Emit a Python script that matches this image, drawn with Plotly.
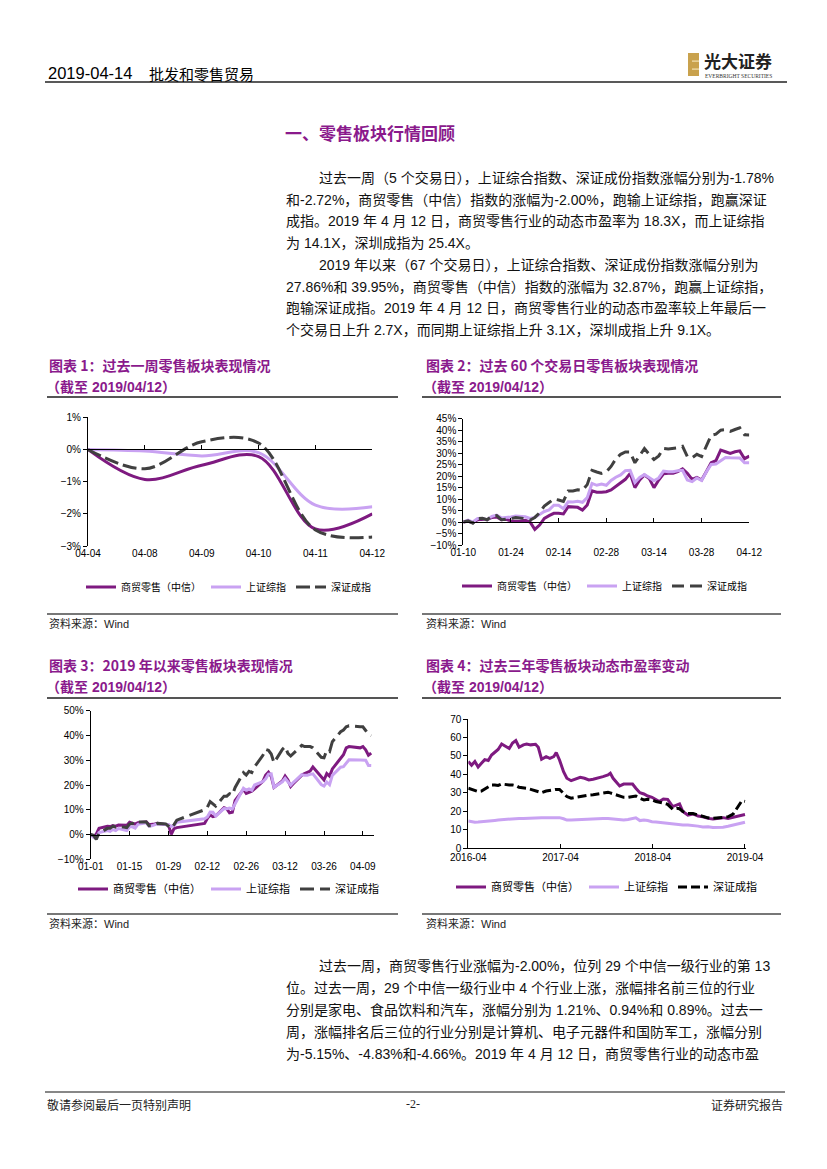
import pandas as pd
import plotly.graph_objects as go

W, H = 827, 1169
OFF = 8  # the page body margin shifts the figure by this many pixels
PURPLE = '#7E1A80'
LILAC = '#C9A2F2'
GREY = '#404040'
TITLE_PURPLE = '#8A1A8C'
CJK = 'Noto Sans CJK SC'
TXT = 'Liberation Sans, Arial, Noto Sans CJK SC'

NAMES = ['商贸零售（中信）', '上证综指', '深证成指']

# chart 1: past week (%)
week_days = ['04-04', '04-08', '04-09', '04-10', '04-11', '04-12']
week_retail = [0, -0.93, -0.49, -0.22, -2.47, -2.00]
week_sh = [0, -0.05, -0.20, -0.10, -1.73, -1.78]
week_sz = [0, -0.60, 0.24, 0.20, -2.50, -2.72]

# trading days of 2019 (base point on 01-01)
holidays = ['2019-02-04', '2019-02-05', '2019-02-06', '2019-02-07', '2019-02-08', '2019-04-05']
trade_days = pd.bdate_range('2019-01-02', '2019-04-12', freq='C', holidays=holidays)
ytd_dates = ['2019-01-01'] + [d.strftime('%Y-%m-%d') for d in trade_days]

# chart 2: past 60 trading days (%)
d60_dates = ytd_dates[7:]
d60_retail = [0, 0.3, -0.3, 1, 1.2, 1, 2, 2.2, 1, 1.2,
              0.5, 0.3, 0.5, 0.8, 0, -3.2, -1.3, 1.6, 2.8, 3.8,
              3.8, 3.5, 6.7, 6.4, 6.4, 5.2, 7.4, 13.6, 13, 13,
              13.2, 14, 15.4, 17, 18.6, 21.2, 15, 18.3, 20.5, 19,
              15, 18.3, 21, 21.2, 21.2, 22, 23.2, 21.2, 18.6, 19.4,
              18.3, 22, 25.8, 26.7, 31.3, 30.6, 29.9, 30.6, 31, 27.6,
              28.7]
d60_sh = [0, 0.8, 0, 1.5, 1.5, 1, 2.5, 3, 1.8, 1.9,
          2.2, 2.6, 2.4, 2.3, 1.6, 2, 3.3, 4.6, 5.3, 7.3,
          7.3, 5.8, 8.8, 8.7, 9, 8.6, 10.6, 16.8, 16, 16.5,
          16, 18.1, 19.5, 20.5, 22.4, 22.5, 17.2, 19.4, 20.7, 19.4,
          18, 19.2, 22.2, 21.9, 21.9, 22.3, 22.5, 18.3, 17.6, 19.2,
          18.1, 21.9, 25.1, 25.3, 26.9, 28.1, 28, 27.8, 27.9, 25.8,
          25.8]
d60_sz = [0, 0.5, -0.5, 1.5, 1.6, 1, 2.6, 2.8, 1, 1.2,
          1.5, 2, 1.8, 1.5, 0.8, 2, 4, 7, 8.5, 10,
          9.6, 9, 13.5, 13.5, 14, 13.8, 16.3, 22.5, 21.8, 21.2,
          21.8, 24.2, 27.5, 29.5, 30.5, 30.5, 25.8, 29, 32, 29.5,
          27.2, 28.8, 32, 31.8, 32, 32.3, 33, 28.5, 28, 29.5,
          28.5, 33.5, 37.8, 38.3, 40, 40.2, 39.5, 40.3, 41, 38,
          37.9]
d60_ticks = d60_dates[::10]

# chart 3: year to date (%)
ytd_retail = [0, -0.8, 0.2, 2.5, 3.3, 3.2, 3.6, 3.4, 3.8, 3.7,
              5, 4.6, 4.2, 4.8, 5.1, 4, 4, 4.3, 4.5, 4.2,
              3.8, 0.1, 2.4, 2.8, 4.5, 6.5, 7.9, 7.2, 7.5, 10.8,
              10.4, 8.8, 9, 13.8, 18.2, 16.6, 17, 17.5, 18.4, 21.5,
              24, 25.2, 23.5, 19, 21.6, 23.6, 22, 19.4, 20.6, 24,
              24.6, 25, 25.6, 27.3, 23, 22, 24.6, 23.6, 26.5, 30.5,
              32.2, 35, 35.5, 35, 35.5, 34.2, 32, 32.9]
ytd_sh = [0, -1.1, -1.2, 0.8, 1.6, 1.3, 2.0, 1.6, 2.4, 1.6,
          3.1, 3.1, 2.6, 4.1, 4.7, 3.4, 3.5, 3.9, 4.3, 4.1,
          4.0, 3.3, 3.6, 5.0, 6.4, 7.1, 9.1, 9.0, 7.5, 10.5,
          10.4, 10.7, 10.3, 12.4, 18.7, 17.9, 18.4, 17.9, 20.0, 21.4,
          22.5, 24.4, 24.5, 19.1, 21.3, 22.7, 21.3, 19.9, 21.1, 24.2,
          23.9, 23.9, 24.3, 24.5, 20.2, 19.6, 21.2, 20.1, 23.9, 27.2,
          27.4, 29.0, 30.2, 30.1, 29.9, 30.0, 27.9, 27.86]
ytd_sz = [0, -0.3, -2, 0.5, 2.5, 2.5, 3.4, 3, 3.3, 2.8,
          4.2, 4.5, 4, 5, 5.1, 3.5, 3.5, 4, 4.5, 4.3,
          3.4, 2.5, 4, 5.8, 10, 11, 13.3, 12.3, 11.5, 15.5,
          15.5, 16.5, 16, 19, 25, 24, 25.5, 25, 27.3, 32,
          34.4, 34, 32.5, 29, 34.4, 35.5, 32.8, 31.7, 32.8, 36,
          35.5, 35.5, 35.5, 35, 31.2, 31, 34, 33.5, 37.5, 41.5,
          42.2, 43.5, 43.9, 43.5, 43.5, 42, 40.5, 39.95]
ytd_ticks = ['2019-01-01', '2019-01-15', '2019-01-29', '2019-02-12',
             '2019-02-26', '2019-03-12', '2019-03-26', '2019-04-09']

# chart 4: dynamic PE over three years (X)
pe_dates = ['2016-04-12', '2016-04-25', '2016-05-08', '2016-05-21', '2016-06-03', '2016-06-16', '2016-06-30', '2016-07-13', '2016-07-26', '2016-08-08',
            '2016-08-22', '2016-09-04', '2016-09-21', '2016-10-04', '2016-10-17', '2016-10-30', '2016-11-16', '2016-11-29', '2016-12-15', '2017-01-03',
            '2017-01-14', '2017-01-27', '2017-02-14', '2017-03-01', '2017-03-16', '2017-03-26', '2017-04-08', '2017-04-24', '2017-05-07', '2017-05-24',
            '2017-06-11', '2017-06-29', '2017-07-16', '2017-08-02', '2017-08-19', '2017-09-07', '2017-09-27', '2017-10-17', '2017-10-26', '2017-11-06',
            '2017-11-19', '2017-12-02', '2017-12-18', '2018-01-04', '2018-01-22', '2018-02-04', '2018-02-20', '2018-03-08', '2018-03-23', '2018-04-09',
            '2018-04-25', '2018-05-08', '2018-05-24', '2018-06-10', '2018-06-30', '2018-07-16', '2018-07-27', '2018-08-09', '2018-08-29', '2018-09-18',
            '2018-10-08', '2018-10-27', '2018-11-17', '2018-12-06', '2018-12-26', '2019-01-15', '2019-02-04', '2019-02-24', '2019-03-14', '2019-03-31',
            '2019-04-12']
pe_retail = [47, 45, 47, 44, 46, 48, 47.5, 50.5, 52, 53.5,
             56.5, 55.4, 54, 57, 58.3, 54.7, 56, 56.5, 56, 56.3,
             54.7, 48.2, 49.6, 48.7, 49.6, 51.8, 47.8, 41.5, 37.9, 36.6,
             37.4, 38.4, 37.9, 37, 37.4, 37.9, 38.8, 39.7, 40.6, 37.9,
             36.1, 33.8, 34.8, 34.7, 34.8, 32.5, 30.1, 29.4, 28.3, 27.6,
             26.5, 25.3, 26.7, 26.5, 22.6, 23.5, 24, 19.9, 18, 18.6,
             17.5, 17.1, 16.2, 15.9, 16.2, 16.6, 16.2, 16.8, 17.1, 18,
             18.3]
pe_sh = [14.8, 14.4, 14.1, 14.2, 14.3, 14.5, 14.7, 14.9, 15.1, 15.3,
         15.5, 15.7, 15.9, 16.1, 16.1, 16.2, 16.2, 16.2, 16.1, 16.1,
         16.3, 16.5, 16.6, 16.7, 16.8, 16.8, 16.6, 16, 15.3, 15.3,
         15.4, 15.6, 15.9, 16, 16.2, 16.2, 16.2, 16.1, 16, 15.9,
         15.7, 15.5, 15.3, 15.6, 16.3, 16.5, 15, 15.3, 15, 14.4,
         14.3, 14.1, 13.9, 13.6, 13, 12.8, 12.7, 12.6, 12.6, 12.5,
         12, 11.5, 11.7, 11.3, 11.2, 11.4, 11.9, 12.6, 13.3, 13.9,
         14.1]
pe_sz = [32.5, 32, 31.2, 30.7, 31, 32, 33, 34.3, 34.3, 34,
         34.8, 34.5, 34.3, 34.3, 34, 33, 32.8, 32.5, 31.9, 31,
         30.3, 30.1, 31, 31.4, 31.8, 31.9, 31.9, 29.8, 28, 27.1,
         27.5, 28.3, 28.5, 28.8, 29, 29.4, 29.8, 30.3, 30, 29.5,
         28.8, 28.3, 27.6, 27.6, 27.8, 28.3, 27, 26.2, 26.5, 26.2,
         25.3, 25, 24.5, 23.8, 21.1, 21.7, 21.4, 19.9, 18.8, 18.8,
         18, 17, 16.5, 16.2, 16.5, 16.8, 17, 18.5, 22.6, 25.8,
         25.4]
pe_ticks = ['2016-04-12', '2017-04-12', '2018-04-12', '2019-04-12']
pe_ticktext = ['2016-04', '2017-04', '2018-04', '2019-04']

# page text
header_date = '2019-04-14'
header_topic = '批发和零售贸易'
section_title = '一、零售板块行情回顾'
para1 = ['过去一周（5 个交易日），上证综合指数、深证成份指数涨幅分别为-1.78%',
         '和-2.72%，商贸零售（中信）指数的涨幅为-2.00%，跑输上证综指，跑赢深证',
         '成指。2019 年 4 月 12 日，商贸零售行业的动态市盈率为 18.3X，而上证综指',
         '为 14.1X，深圳成指为 25.4X。']
para2 = ['2019 年以来（67 个交易日），上证综合指数、深证成份指数涨幅分别为',
         '27.86%和 39.95%，商贸零售（中信）指数的涨幅为 32.87%，跑赢上证综指，',
         '跑输深证成指。2019 年 4 月 12 日，商贸零售行业的动态市盈率较上年最后一',
         '个交易日上升 2.7X，而同期上证综指上升 3.1X，深圳成指上升 9.1X。']
para3 = ['过去一周，商贸零售行业涨幅为-2.00%，位列 29 个中信一级行业的第 13',
         '位。过去一周，29 个中信一级行业中 4 个行业上涨，涨幅排名前三位的行业',
         '分别是家电、食品饮料和汽车，涨幅分别为 1.21%、0.94%和 0.89%。过去一',
         '周，涨幅排名后三位的行业分别是计算机、电子元器件和国防军工，涨幅分别',
         '为-5.15%、-4.83%和-4.66%。2019 年 4 月 12 日，商贸零售行业的动态市盈']
chart_titles = ['图表 1：过去一周零售板块表现情况',
                '图表 2：过去 60 个交易日零售板块表现情况',
                '图表 3：2019 年以来零售板块表现情况',
                '图表 4：过去三年零售板块动态市盈率变动']
chart_sub = '（截至 2019/04/12）'
source = '资料来源：Wind'


def fx(px):
    return (px - OFF) / W


def fy(py):
    return 1 - (py - OFF) / H


fig = go.Figure()


def add_series(xs, series, xa, ya, legend, dash, dark, smooth=False):
    for name, ys, color, d in zip(NAMES, series, [PURPLE, LILAC, dark], ['solid', 'solid', dash]):
        line = dict(color=color, width=3, dash=d)
        if smooth:
            line.update(shape='spline', smoothing=1.0)
        fig.add_trace(go.Scatter(x=xs, y=ys, name=name, mode='lines', xaxis=xa, yaxis=ya,
                                 legend=legend, line=line, hoverinfo='skip'))


add_series(week_days, [week_retail, week_sh, week_sz], 'x', 'y', 'legend', '14px,5px', GREY, smooth=True)
add_series(d60_dates, [d60_retail, d60_sh, d60_sz], 'x2', 'y2', 'legend2', '12px,6px', GREY)
add_series(ytd_dates, [ytd_retail, ytd_sh, ytd_sz], 'x3', 'y3', 'legend3', '14px,6px', GREY)
add_series(pe_dates, [pe_retail, pe_sh, pe_sz], 'x4', 'y4', 'legend4', '9px,4px', '#000000')

# empty traces so the zero-line axes get drawn
for xa, ya in [('x5', 'y'), ('x6', 'y2'), ('x7', 'y3')]:
    fig.add_trace(go.Scatter(x=[], y=[], xaxis=xa, yaxis=ya, showlegend=False, hoverinfo='skip'))

tick_font = dict(family='Liberation Sans, Arial', size=10, color='#000')


def yax(dom, rng, dtick, suffix, anchor):
    return dict(domain=[fy(dom[1]), fy(dom[0])], range=rng, dtick=dtick, ticksuffix=suffix, anchor=anchor,
                showline=True, linecolor='#000', linewidth=1, ticks='outside', ticklen=4, tickcolor='#000',
                showgrid=False, zeroline=False, tickfont=tick_font, automargin=False)


def xlab(dom, rng, anchor, type_, **kw):
    return dict(domain=[fx(dom[0]), fx(dom[1])], range=rng, anchor=anchor, type=type_, showline=False,
                ticks='', showgrid=False, zeroline=False, tickfont=tick_font, automargin=False, **kw)


def xzero(over, ydom, yrng, rng, type_, tickvals):
    pos = fy(ydom[1]) + (0 - yrng[0]) / (yrng[1] - yrng[0]) * (fy(ydom[0]) - fy(ydom[1]))
    return dict(overlaying=over, anchor='free', position=pos, range=rng, type=type_, tickvals=tickvals,
                showline=True, linecolor='#000', linewidth=1, ticks='inside', ticklen=4, tickcolor='#000',
                showticklabels=False, showgrid=False, zeroline=False, automargin=False)


c1_x, c1_y = (88, 372.3), (417.3, 546)
c2_x, c2_y = (463.3, 749.3), (418.7, 545)
c3_x, c3_y = (90.7, 374), (710.7, 859.3)
c4_x, c4_y = (468.3, 746), (719, 848.3)

fig.update_layout(
    template='none',
    width=W, height=H, margin=dict(l=0, r=0, t=0, b=0, pad=0, autoexpand=False),
    paper_bgcolor='white', plot_bgcolor='white', hovermode=False,
    xaxis=xlab(c1_x, [0, 5], 'y', 'category'),
    yaxis=yax(c1_y, [-3, 1], 1, '%', 'x'),
    xaxis2=xlab(c2_x, [0, 60], 'y2', 'category', tickvals=d60_ticks, ticktext=[d[5:] for d in d60_ticks]),
    yaxis2=yax(c2_y, [-10, 45], 5, '%', 'x2'),
    xaxis3=xlab(c3_x, ['2019-01-01', '2019-04-13'], 'y3', 'date', tickvals=ytd_ticks, tickformat='%m-%d'),
    yaxis3=yax(c3_y, [-10, 50], 10, '%', 'x3'),
    xaxis4=dict(domain=[fx(c4_x[0]), fx(c4_x[1])], range=['2016-04-12', '2019-04-16'], anchor='y4', type='date',
                tickvals=pe_ticks, ticktext=pe_ticktext, showline=True, linecolor='#000', linewidth=1,
                ticks='inside', ticklen=4, tickcolor='#000', showgrid=False, zeroline=False, tickfont=tick_font,
                automargin=False),
    yaxis4=yax(c4_y, [0, 70], 10, '', 'x4'),
    xaxis5=xzero('x', c1_y, [-3, 1], [0, 5], 'linear', list(range(6))),
    xaxis6=xzero('x2', c2_y, [-10, 45], [0, 60], 'linear', list(range(0, 61, 10))),
    xaxis7=xzero('x3', c3_y, [-10, 50], ['2019-01-01', '2019-04-13'], 'date', ytd_ticks),
)

leg_common = dict(orientation='h', xanchor='left', yanchor='middle', bgcolor='rgba(0,0,0,0)',
                  tracegroupgap=0, borderwidth=0)
small_leg = dict(family=CJK, size=10, color='#000')
big_leg = dict(family=CJK, size=11, color='#000')
fig.update_layout(
    legend=dict(x=fx(81), y=fy(587), font=small_leg, **leg_common),
    legend2=dict(x=fx(457), y=fy(586), font=small_leg, **leg_common),
    legend3=dict(x=fx(73), y=fy(889), font=big_leg, **leg_common),
    legend4=dict(x=fx(451), y=fy(887), font=big_leg, **leg_common),
)

anns = []


def note(text, px, py, size=14, color='#111', bold=False, anchor='left', family=TXT):
    if bold:
        text = '<b>' + text + '</b>'
    anns.append(dict(text=text, x=fx(px), y=fy(py), xref='paper', yref='paper', xanchor=anchor,
                     yanchor='middle', showarrow=False, font=dict(size=size, color=color, family=family)))


# header
note(header_date, 46, 73, size=16.5, color='#000', family='Liberation Sans')
note(header_topic, 147, 73, size=15, color='#000', family=CJK)
note('光大证券', 702, 60, size=17, color='#222', bold=True, family=CJK)
note('EVERBRIGHT SECURITIES', 703, 75.5, size=5.5, color='#333', family='Liberation Serif')
note(section_title, 283, 132, size=17, color=TITLE_PURPLE, bold=True, family=CJK)

# paragraphs
for i, line in enumerate(para1):
    note(line, 317 if i == 0 else 284, 178 + 21.7 * i)
for i, line in enumerate(para2):
    note(line, 317 if i == 0 else 284, 265 + 21.7 * i)
for i, line in enumerate(para3):
    note(line, 317 if i == 0 else 284, 966 + 22 * i)

# chart captions
for (px, py), t in zip([(47, 365), (424, 365), (47, 665), (424, 665)], chart_titles):
    note(t, px, py, size=14, color=TITLE_PURPLE, bold=True, family=CJK)
    note(chart_sub, px - 3, py + 22, size=14, color=TITLE_PURPLE, bold=True, family=TXT)
for px, py in [(47, 623), (424, 623), (47, 923), (424, 923)]:
    note(source, px, py, size=11, color='#222', family=TXT)

# footer
note('敬请参阅最后一页特别声明', 45, 1104, size=12, color='#222', family=CJK)
note('-2-', 413, 1104, size=12, color='#222', anchor='center', family='Liberation Serif')
note('证券研究报告', 785, 1104, size=12, color='#222', anchor='right', family=CJK)

fig.update_layout(annotations=anns)

shapes = []


def rule(x0, x1, y, color='#000', width=1.5):
    shapes.append(dict(type='line', xref='paper', yref='paper', x0=fx(x0), x1=fx(x1), y0=fy(y), y1=fy(y),
                       line=dict(color=color, width=width)))


rule(45, 787, 82, '#222', 1.5)
for y in (397, 698):
    rule(47, 398, y, '#555', 2)
    rule(422, 781, y, '#555', 2)
for y in (614, 914):
    rule(47, 398, y, '#777', 2)
    rule(422, 781, y, '#777', 2)
rule(45, 785, 1092, '#111', 1.2)

# logo mark
shapes.append(dict(type='rect', xref='paper', yref='paper', x0=fx(688), x1=fx(699), y0=fy(76), y1=fy(53),
                   fillcolor='#C9A24D', line=dict(width=0)))
for yy in (60.5, 68.5):
    shapes.append(dict(type='rect', xref='paper', yref='paper', x0=fx(692), x1=fx(699), y0=fy(yy + 1.2), y1=fy(yy),
                       fillcolor='#F3E3B5', line=dict(width=0)))
fig.update_layout(shapes=shapes)

fig.write_html('out.html')
